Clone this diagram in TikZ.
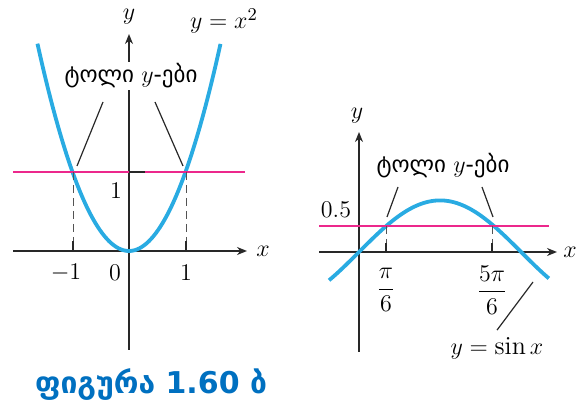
\documentclass[tikz,border=0pt]{standalone}
\usepackage{amsmath}
\usepackage{fontspec}
\newfontfamily\geofont{DejaVu Sans}
\usetikzlibrary{positioning,arrows.meta,calc}
\definecolor{curveblue}{RGB}{41,171,226}
\definecolor{levelpink}{RGB}{236,40,140}
\definecolor{capblue}{RGB}{0,112,192}
\definecolor{axisgray}{RGB}{40,40,40}

\begin{document}
\begin{tikzpicture}[
		x=0.5pt, y=-0.5pt,
		font=\fontsize{13}{15}\selectfont,
		axis/.style={draw=axisgray, line width=0.9pt},
		arr/.style={axis, -{Stealth[length=5pt, width=4pt]}},
		curve/.style={draw=curveblue, line width=1.9pt},
		level/.style={draw=levelpink, line width=1.2pt},
		lead/.style={draw=axisgray, line width=0.6pt},
		drop/.style={draw=axisgray!80, line width=0.5pt, dash pattern=on 4pt off 2.5pt},
		tick/.style={draw=axisgray, line width=0.8pt},
		geo/.style={font=\geofont\fontsize{11.5}{13}\selectfont, fill=white, inner sep=1pt}
		]
		\useasboundingbox (0,0) rectangle (584,411);
		% left graph: y = x^2
		\coordinate (xa1) at (13,251);
		\coordinate (xb1) at (247,251);
		\coordinate (ya1) at (129,350);
		\coordinate (yb1) at (129,34);
		\draw[arr] (xa1) -- (xb1);
		\draw[arr] (ya1) -- (yb1);
		\node (xlab1) at (263,251) {$x$};
		\node (ylab1) at (129,17) {$y$};
		\draw[curve] plot[domain=-1.62:1.62, samples=80] ({129+56.5*\x},{251-79*\x*\x});
		\coordinate (la1) at (13,172);
		\coordinate (lb1) at (245,172);
		\draw[level] (la1) -- (lb1);
		\draw[tick] (129,172) -- (145,172);
		\coordinate (pm1) at (73,172);
		\coordinate (pp1) at (186,172);
		\draw[drop] (pm1) -- (73,241);
		\draw[drop] (pp1) -- (186,241);
		\draw[tick] (73,241) -- (73,251);
		\draw[tick] (186,241) -- (186,251);
		\node (one1) at (116,191) {$1$};
		\node (xm1) at (66,273) {$-1$};
		\node (zero1) at (115,273) {$0$};
		\node (xp1) at (186,273) {$1$};
		\node (fx1) at (224,21) {$y = x^2$};
		\node[geo] (eq1) at (131,76) {ტოლი $y$-ები};
		\coordinate (eq1l) at (103,102);
		\coordinate (eq1r) at (155,102);
		\draw[lead] (eq1l) -- (77,166);
		\draw[lead] (eq1r) -- (183,166);
		% right graph: y = sin x
		\coordinate (xa2) at (319,252);
		\coordinate (xb2) at (557,252);
		\coordinate (ya2) at (359,352);
		\coordinate (yb2) at (359,132);
		\draw[arr] (xa2) -- (xb2);
		\draw[arr] (ya2) -- (yb2);
		\node (xlab2) at (570,252) {$x$};
		\node (ylab2) at (357,116) {$y$};
		\draw[curve] plot[domain=-0.58:3.68, samples=80] ({359+51.6*\x},{252-51.6*sin(\x r)});
		\coordinate (la2) at (319,226);
		\coordinate (lb2) at (549,226);
		\draw[level] (la2) -- (lb2);
		\coordinate (ps1) at (386,226);
		\coordinate (ps5) at (492,226);
		\draw[drop] (ps1) -- (386,243);
		\draw[drop] (ps5) -- (492,243);
		\draw[tick] (386,243) -- (386,252);
		\draw[tick] (492,243) -- (492,252);
		\node (half2) at (336,210) {$0.5$};
		\node (pi6) at (386,290) {$\dfrac{\pi}{6}$};
		\node (pi56) at (492,290) {$\dfrac{5\pi}{6}$};
		\node[geo] (eq2) at (443,166) {ტოლი $y$-ები};
		\draw[lead] (398,187) -- (387,217);
		\draw[lead] (482,187) -- (493,217);
		\node (fx2) at (497,348) {$y = \sin x$};
		\draw[lead] (533,282) -- (fx2.north);
		% caption
		\node[font=\geofont\bfseries\fontsize{15}{18}\selectfont, text=capblue] (cap) at (151,385)
		{ფიგურა 1.60 ბ};
	\end{tikzpicture}
\end{document}
